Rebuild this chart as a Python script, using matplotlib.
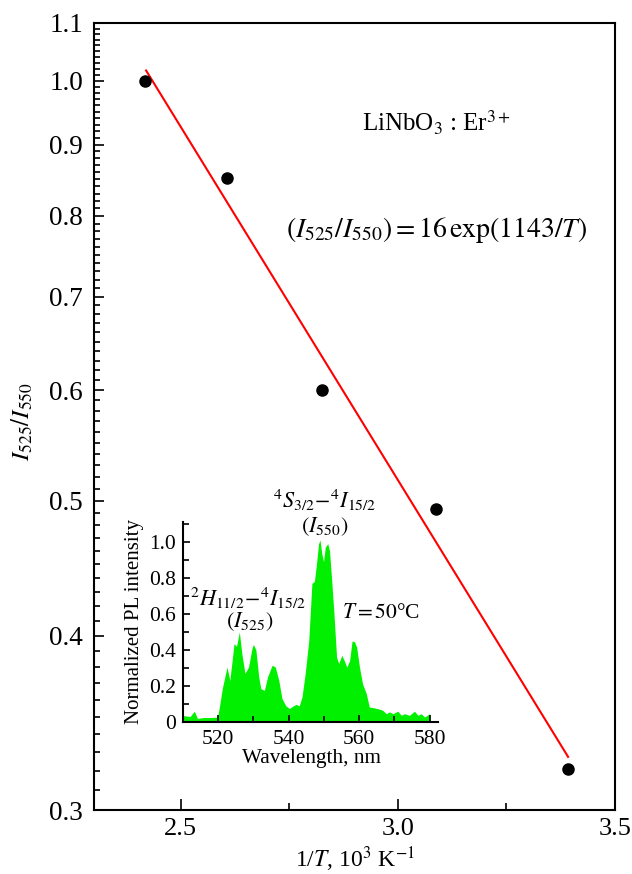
import matplotlib
matplotlib.use("Agg")
import matplotlib.pyplot as plt
from matplotlib.ticker import FixedLocator, MultipleLocator, NullFormatter
import numpy as np

plt.rcParams['font.family'] = ['Liberation Serif', 'DejaVu Serif']
plt.rcParams['mathtext.fontset'] = 'stix'

# ---- main data ----
inv_T = [2.417, 2.606, 2.826, 3.088, 3.392]
ratio = [1.0, 0.852, 0.60, 0.493, 0.321]
fit_x = [2.42, 3.392]
fit_y = [1.017, 0.3275]

y_ticks = [0.3, 0.4, 0.5, 0.6, 0.7, 0.8, 0.9, 1.0, 1.1]
y_ticklabels = ['0.3', '0.4', '0.5', '0.6', '0.7', '0.8', '0.9', '1.0', '1.1']
x_ticks = [2.5, 3.0, 3.5]
x_ticklabels = ['2.5', '3.0', '3.5']

# ---- inset spectrum ----
wavelength = [510.0, 510.3, 512.0, 513.2, 514.1, 516.0, 518.0, 519.8, 520.3, 521.2,
              522.5, 523.3, 524.5, 525.2, 526.0, 526.7, 527.6, 528.6, 529.6, 530.0,
              530.7, 531.5, 532.1, 533.1, 534.0, 535.3, 536.2, 537.2, 538.1, 539.2,
              540.2, 541.1, 542.1, 543.0, 543.8, 544.7, 545.7, 546.6, 547.3, 547.8,
              548.5, 548.9, 549.4, 549.9, 550.4, 551.1, 551.6, 552.2, 552.8, 553.6,
              554.2, 555.1, 555.8, 556.5, 557.3, 558.0, 558.7, 559.3, 560.1, 561.0,
              562.0, 562.9, 563.9, 565.3, 566.7, 567.7, 568.6, 569.6, 571.0, 572.0,
              572.9, 574.3, 575.7, 576.7, 577.6, 578.6, 580.0]
intensity = [0.037, 0.035, 0.03, 0.06, 0.02, 0.025, 0.025, 0.027, 0.08, 0.19,
             0.305, 0.23, 0.435, 0.42, 0.50, 0.38, 0.27, 0.305, 0.41, 0.43,
             0.40, 0.25, 0.185, 0.175, 0.25, 0.315, 0.305, 0.23, 0.13, 0.09,
             0.075, 0.087, 0.098, 0.09, 0.14, 0.27, 0.45, 0.77, 0.78, 0.86,
             0.99, 1.01, 0.935, 0.89, 0.97, 0.99, 0.95, 0.79, 0.62, 0.36,
             0.325, 0.37, 0.34, 0.305, 0.34, 0.45, 0.445, 0.415, 0.305, 0.21,
             0.16, 0.083, 0.08, 0.074, 0.065, 0.046, 0.056, 0.046, 0.06, 0.037,
             0.046, 0.037, 0.06, 0.037, 0.046, 0.028, 0.046]
inset_xticks = [520, 540, 560, 580]
inset_yticks = [0, 0.2, 0.4, 0.6, 0.8, 1.0]
inset_yticklabels = ['0', '0.2', '0.4', '0.6', '0.8', '1.0']

W, H = 632, 874
fig = plt.figure(figsize=(W / 100, H / 100), dpi=100)

def fx(px):
    return px / W

def fy(py):
    return 1 - py / H

ax = fig.add_axes([fx(94), fy(810), fx(615) - fx(94), fy(23) - fy(810)])
ax.set_yscale('log')
ax.set_xlim(2.3, 3.5)
ax.set_ylim(0.3, 1.1)
ax.plot(fit_x, fit_y, color='#ff0000', lw=1.5, zorder=2)
ax.plot(inv_T, ratio, 'o', color='black', ms=8, zorder=3)

ax.yaxis.set_major_locator(FixedLocator(y_ticks))
ax.yaxis.set_minor_locator(FixedLocator([round(v, 2) for v in np.arange(0.31, 1.1, 0.01)]))
ax.set_yticklabels(y_ticklabels)
ax.yaxis.set_minor_formatter(NullFormatter())
ax.xaxis.set_major_locator(FixedLocator(x_ticks))
ax.set_xticklabels(x_ticklabels)
ax.xaxis.set_minor_locator(MultipleLocator(0.25))
ax.tick_params(axis='both', which='both', direction='in', top=False, right=False,
               width=1.2, labelsize=19.5)
ax.tick_params(axis='y', which='major', length=7, pad=8)
ax.tick_params(axis='y', which='minor', length=4.5)
ax.tick_params(axis='x', which='major', length=8, pad=6, labelsize=19)
ax.tick_params(axis='x', which='minor', length=5)
for s in ax.spines.values():
    s.set_linewidth(1.5)

fig.text(fx(22), fy(422), r'$I_{525}/I_{550}$', rotation=90, ha='center', va='center', fontsize=18)
fig.text(fx(355), fy(859), r'1/$T$, 10$^3$ K$^{-1}$', ha='center', va='center', fontsize=17)
fig.text(fx(436), fy(123), r'LiNbO$_3$ : Er$^{3+}$', ha='center', va='center', fontsize=18)
fig.text(fx(437), fy(230), r'$(I_{525}/I_{550}) = 16\,\mathrm{exp}(1143/T)$', ha='center', va='center', fontsize=20)

# ---- inset ----
ins = fig.add_axes([fx(183), fy(722), fx(438) - fx(183), fy(522) - fy(722)])
ins.patch.set_alpha(0)
ins.fill_between(wavelength, intensity, 0, color='#00f000', lw=0)
ins.set_xlim(510, 582.4)
ins.set_ylim(0, 1.11)
ins.spines['top'].set_visible(False)
ins.spines['right'].set_visible(False)
for s in ['left', 'bottom']:
    ins.spines[s].set_linewidth(1.5)
ins.xaxis.set_major_locator(FixedLocator(inset_xticks))
ins.xaxis.set_minor_locator(MultipleLocator(10))
ins.yaxis.set_major_locator(FixedLocator(inset_yticks))
ins.set_yticklabels(inset_yticklabels)
ins.yaxis.set_minor_locator(MultipleLocator(0.1))
ins.tick_params(axis='both', which='both', direction='in', width=1.2, labelsize=15.5)
ins.tick_params(axis='both', which='major', length=5)
ins.tick_params(axis='both', which='minor', length=4)
ins.tick_params(axis='y', which='major', pad=5)
ins.tick_params(axis='x', which='major', pad=6)

fig.text(fx(134), fy(621), 'Normalized PL intensity', rotation=90, ha='center', va='center', fontsize=15)
fig.text(fx(311), fy(758), 'Wavelength, nm', ha='center', va='center', fontsize=15.3)
fig.text(fx(325), fy(500), r'$^4S_{3/2}\!-\!^4I_{15/2}$', ha='center', va='center', fontsize=16)
fig.text(fx(325), fy(527), r'$(I_{550})$', ha='center', va='center', fontsize=16)
fig.text(fx(248), fy(598), r'$^2H_{11/2}\!-\!^4I_{15/2}$', ha='center', va='center', fontsize=16)
fig.text(fx(250), fy(622), r'$(I_{525})$', ha='center', va='center', fontsize=16)
fig.text(fx(381), fy(613), r'$T = 50$°C', ha='center', va='center', fontsize=15.5)

fig.savefig('out.png', dpi=100)
